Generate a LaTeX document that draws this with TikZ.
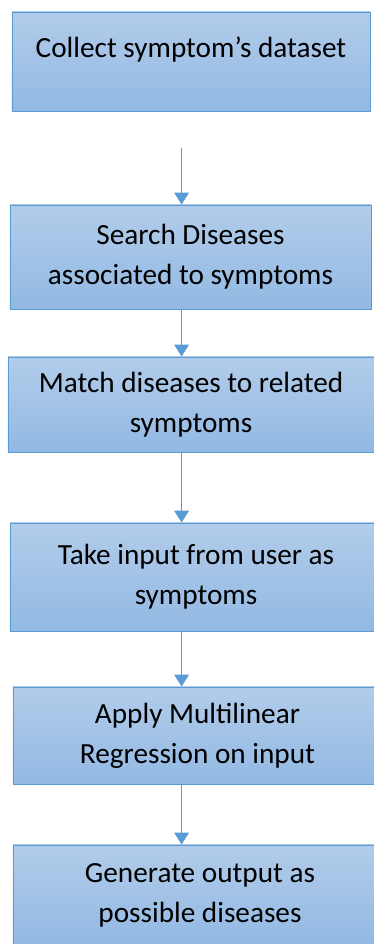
\documentclass[tikz,border=0pt]{standalone}
\usepackage{fontspec}
\setmainfont{Carlito}
\usepackage{xcolor}
\definecolor{flowblue}{RGB}{91,155,213}
\definecolor{filltop}{RGB}{178,204,234}
\definecolor{fillbot}{RGB}{146,185,227}
\usetikzlibrary{arrows.meta,positioning,calc}

\begin{document}
\begin{tikzpicture}[
        stepbox/.style={rectangle, draw=flowblue, line width=0.7pt, top color=filltop, bottom color=fillbot,
          align=center, font=\fontsize{20.8}{28.45}\selectfont, inner sep=0pt},
        arr/.style={-{Triangle[length=0.3cm, width=0.37cm]}, line width=1.1pt, flowblue}
      ]
        \useasboundingbox (0,0) rectangle (9.35,23.6);

        \node[stepbox, minimum width=8.95cm, minimum height=2.475cm, text height=0.5cm, text depth=0.675cm]
          (collect) at (4.775,22.0625) {Collect symptom’s dataset};
        \node[stepbox, minimum width=9.025cm, minimum height=2.6cm]   (search)  at (4.7625,17.175) {Search Diseases\\associated to symptoms};
        \node[stepbox, minimum width=9.15cm, minimum height=2.375cm]  (match)   at (4.775,13.4875) {Match diseases to related\\symptoms};
        \node[stepbox, minimum width=9.3cm, minimum height=2.7cm]     (takein)  at (4.9,9.175)     {Take input from user as\\symptoms};
        \node[stepbox, minimum width=9.225cm, minimum height=2.425cm] (regress) at (4.9375,5.2125) {Apply Multilinear\\Regression on input};
        \node[stepbox, minimum width=9.35cm, minimum height=2.5cm]    (output)  at (5.0,1.225)     {Generate output as\\possible diseases};

        % arrows run a little left of the box centres
        \coordinate (spine) at (4.54,0);

        \draw[arr, shorten <=0.925cm] (collect.south -| spine) -- (search.north -| spine);
        \draw[arr] (search.south -| spine) -- (match.north -| spine);
        \draw[arr] (match.south -| spine) -- (takein.north -| spine);
        \draw[arr] (takein.south -| spine) -- (regress.north -| spine);
        \draw[arr] (regress.south -| spine) -- (output.north -| spine);
      \end{tikzpicture}
\end{document}
